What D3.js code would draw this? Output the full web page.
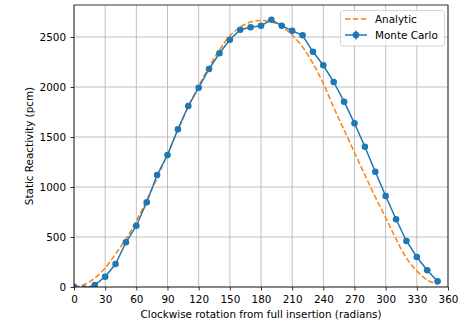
<!DOCTYPE html>
<html>
<head>
<meta charset="utf-8">
<script src="https://cdn.jsdelivr.net/npm/d3@7"></script>
<style>
  html, body { margin: 0; padding: 0; background: #fff; }
  svg { display: block; font-family: "DejaVu Sans", sans-serif; }
</style>
</head>
<body>
<svg id="chart" width="462" height="323"></svg>
<script>
// Rotation angle (degrees) of the control drum
const angles = [0, 10, 20, 30, 40, 50, 60, 70, 80, 90, 100, 110, 120, 130, 140, 150, 160, 170,
                180, 190, 200, 210, 220, 230, 240, 250, 260, 270, 280, 290, 300, 310, 320, 330, 340, 350];

// Monte Carlo static reactivity (pcm) and its 1-sigma uncertainty
const mcValues = [3, -15, 20, 103, 230, 447, 613, 847, 1120, 1320, 1577, 1810, 1993, 2180, 2337, 2472, 2572, 2597,
                  2613, 2672, 2613, 2562, 2517, 2352, 2217, 2050, 1853, 1637, 1403, 1153, 910, 677, 460, 300, 167, 57];
const mcErrors = [10, 10, 10, 10, 10, 10, 10, 10, 10, 10, 10, 10, 10, 10, 10, 10, 10, 10,
                  10, 10, 10, 10, 10, 10, 10, 10, 10, 10, 10, 10, 10, 10, 10, 10, 10, 10];

// Analytic worth curve (pcm)
const analyticValues = [0, 25, 90, 190, 330, 480, 660, 870, 1090, 1330, 1570, 1800, 2010, 2200, 2370, 2510, 2600, 2650,
                        2665, 2650, 2605, 2520, 2400, 2235, 2035, 1795, 1570, 1345, 1120, 900, 695, 480, 290, 160, 70, 25];

const xTicks = [0, 30, 60, 90, 120, 150, 180, 210, 240, 270, 300, 330, 360];
const yTicks = [0, 500, 1000, 1500, 2000, 2500];

const seriesNames = ["Analytic", "Monte Carlo"];
const blue = "#1f77b4", orange = "#ff7f0e";
const fontSize = 10.4;

const W = 462, H = 323;
const margin = { left: 74, right: 14, top: 5, bottom: 36 };
const plotW = W - margin.left - margin.right;
const plotH = H - margin.top - margin.bottom;

const svg = d3.select("#chart");
const x = d3.scaleLinear().domain([0, 360]).range([margin.left, margin.left + plotW]);
const y = d3.scaleLinear().domain([0, 2820]).range([margin.top + plotH, margin.top]);

svg.append("defs").append("clipPath").attr("id", "plotClip")
  .append("rect").attr("x", margin.left).attr("y", margin.top)
  .attr("width", plotW).attr("height", plotH);

// Grid
const grid = svg.append("g").attr("stroke", "#b0b0b0").attr("stroke-width", 0.8);
grid.selectAll(".gx").data(xTicks).join("line")
  .attr("x1", d => x(d)).attr("x2", d => x(d))
  .attr("y1", margin.top).attr("y2", margin.top + plotH);
grid.selectAll(".gy").data(yTicks).join("line")
  .attr("x1", margin.left).attr("x2", margin.left + plotW)
  .attr("y1", d => y(d)).attr("y2", d => y(d));

const plot = svg.append("g").attr("clip-path", "url(#plotClip)");

// Analytic curve
const analytic = angles.map((a, i) => [a, analyticValues[i]]);
plot.append("path")
  .datum(analytic)
  .attr("fill", "none")
  .attr("stroke", orange)
  .attr("stroke-width", 1.5)
  .attr("stroke-dasharray", "5.5,2.4")
  .attr("d", d3.line().x(d => x(d[0])).y(d => y(d[1])).curve(d3.curveCatmullRom));

// Monte Carlo series with error bars
const mc = angles.map((a, i) => ({ a, v: mcValues[i], e: mcErrors[i] }));
plot.append("path")
  .datum(mc)
  .attr("fill", "none")
  .attr("stroke", blue)
  .attr("stroke-width", 1.5)
  .attr("d", d3.line().x(d => x(d.a)).y(d => y(d.v)));
plot.selectAll(".err").data(mc).join("line")
  .attr("stroke", blue).attr("stroke-width", 1.5)
  .attr("x1", d => x(d.a)).attr("x2", d => x(d.a))
  .attr("y1", d => y(d.v - d.e)).attr("y2", d => y(d.v + d.e));
plot.selectAll(".pt").data(mc).join("circle")
  .attr("cx", d => x(d.a)).attr("cy", d => y(d.v)).attr("r", 3.3)
  .attr("fill", blue);

// Spines
svg.append("rect")
  .attr("x", margin.left).attr("y", margin.top)
  .attr("width", plotW).attr("height", plotH)
  .attr("fill", "none").attr("stroke", "#000").attr("stroke-width", 0.8);

// X axis
const xAxis = svg.append("g")
  .attr("transform", `translate(0,${margin.top + plotH})`)
  .call(d3.axisBottom(x).tickValues(xTicks).tickSize(3.5).tickPadding(5.5).tickFormat(d3.format("d")));
xAxis.select(".domain").remove();
xAxis.selectAll(".tick line").attr("stroke", "#000").attr("stroke-width", 0.8);
xAxis.selectAll(".tick text").attr("font-size", fontSize).attr("fill", "#000")
  .attr("font-family", "DejaVu Sans");

// Y axis
const yAxis = svg.append("g")
  .attr("transform", `translate(${margin.left},0)`)
  .call(d3.axisLeft(y).tickValues(yTicks).tickSize(3.5).tickPadding(4.5).tickFormat(d3.format("d")));
yAxis.select(".domain").remove();
yAxis.selectAll(".tick line").attr("stroke", "#000").attr("stroke-width", 0.8);
yAxis.selectAll(".tick text").attr("font-size", fontSize).attr("fill", "#000")
  .attr("font-family", "DejaVu Sans");

// Axis labels
svg.append("text")
  .attr("x", margin.left + plotW / 2).attr("y", 318)
  .attr("text-anchor", "middle").attr("font-size", fontSize).attr("fill", "#000")
  .text("Clockwise rotation from full insertion (radians)");
svg.append("text")
  .attr("transform", `translate(33,${margin.top + plotH / 2}) rotate(-90)`)
  .attr("text-anchor", "middle").attr("font-size", fontSize).attr("fill", "#000")
  .text("Static Reactivity (pcm)");

// Legend
const lg = svg.append("g");
lg.append("rect")
  .attr("x", 340.5).attr("y", 10.5).attr("width", 104).attr("height", 35.5)
  .attr("rx", 2.5).attr("fill", "#fff").attr("fill-opacity", 0.8)
  .attr("stroke", "#cccccc").attr("stroke-width", 0.8);
const rows = [19, 35];
lg.append("line")
  .attr("x1", 345).attr("x2", 367).attr("y1", rows[0]).attr("y2", rows[0])
  .attr("stroke", orange).attr("stroke-width", 1.5).attr("stroke-dasharray", "5.5,2.4");
lg.append("line")
  .attr("x1", 345).attr("x2", 367).attr("y1", rows[1]).attr("y2", rows[1])
  .attr("stroke", blue).attr("stroke-width", 1.5);
lg.append("line")
  .attr("x1", 356).attr("x2", 356).attr("y1", rows[1] - 4.5).attr("y2", rows[1] + 4.5)
  .attr("stroke", blue).attr("stroke-width", 1.5);
lg.append("circle").attr("cx", 356).attr("cy", rows[1]).attr("r", 3.3).attr("fill", blue);
lg.selectAll(".lt").data(seriesNames).join("text")
  .attr("x", 375).attr("y", (d, i) => rows[i]).attr("dy", "0.35em")
  .attr("font-size", fontSize).attr("fill", "#000")
  .text(d => d);
</script>
</body>
</html>
